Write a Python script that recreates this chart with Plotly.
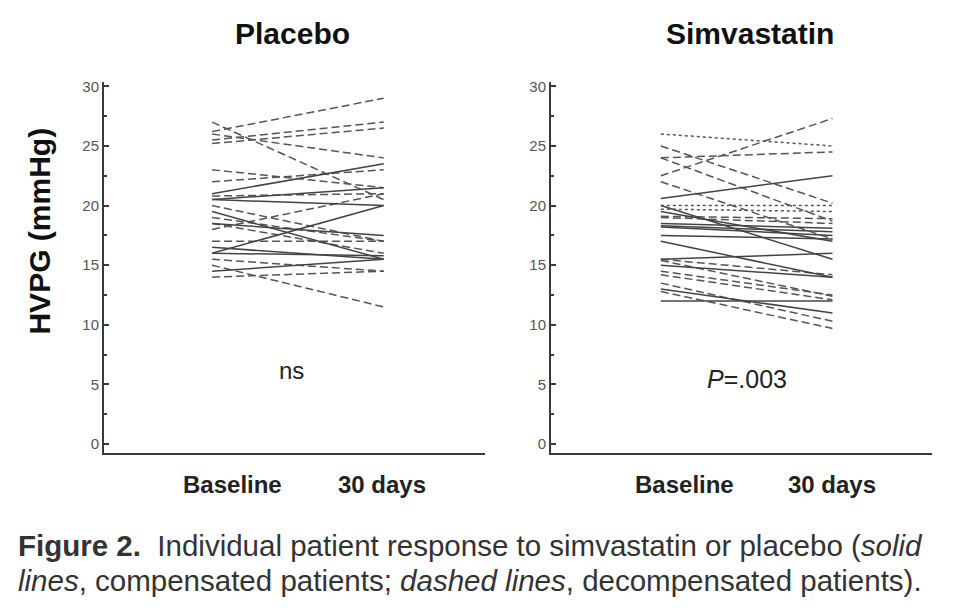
import plotly.graph_objects as go

# HVPG (mmHg) at baseline and after 30 days, one pair per patient
placebo_solid_base = [21, 20.5, 20.5, 19.5, 18.5, 16, 16.5, 16, 14.5]
placebo_solid_30d = [23.5, 21.5, 20, 15.5, 17.5, 20, 15.5, 15.8, 15.5]

placebo_dash_base = [26.2, 25.5, 25.2, 26, 27, 23, 22, 20.8, 20, 18, 19, 18.5, 17, 15.5, 15, 14]
placebo_dash_30d = [29, 27, 26.5, 24, 20.5, 21.5, 23, 21, 17, 21, 17, 16, 17, 14.5, 11.5, 14.5]

simva_solid_base = [20.6, 20, 19.5, 18.5, 18.3, 18.2, 17.5, 17, 15.5, 15, 13, 12]
simva_solid_30d = [22.5, 15.5, 17, 18.1, 17.8, 17.5, 17.2, 14, 16, 14, 11, 12]

simva_dash_base = [25, 24, 24, 22.5, 22, 19.1, 19, 15.5, 15.4, 14.5, 14.2, 13.5, 12.8]
simva_dash_30d = [20.2, 24.5, 18.7, 27.3, 17.2, 18.9, 18.5, 14.2, 12.4, 12.5, 12.1, 10.3, 9.7]

simva_dot_base = [26, 20, 19.7]
simva_dot_30d = [25, 20, 19.5]

timepoints = [1, 2]
x_labels = ["Baseline", "30 days"]

# page body has an 8px margin, so the figure is drawn a bit smaller
W, H = 945, 606


def fx(px):
    return (px - 8) / W


def fy(py):
    return 1 - (py - 8) / H


fig = go.Figure()


def add_lines(base, end, dash, color, xaxis, yaxis):
    for b, e in zip(base, end):
        fig.add_trace(go.Scatter(
            x=timepoints, y=[b, e], mode="lines",
            line=dict(color=color, width=1.5, dash=dash),
            xaxis=xaxis, yaxis=yaxis, showlegend=False, hoverinfo="skip"))


add_lines(placebo_dash_base, placebo_dash_30d, "8px,4px", "#555555", "x", "y")
add_lines(placebo_solid_base, placebo_solid_30d, "solid", "#444444", "x", "y")
add_lines(simva_dash_base, simva_dash_30d, "8px,4px", "#555555", "x2", "y2")
add_lines(simva_dot_base, simva_dot_30d, "3px,3px", "#555555", "x2", "y2")
add_lines(simva_solid_base, simva_solid_30d, "solid", "#444444", "x2", "y2")

font = "Liberation Sans, Arial, sans-serif"

yaxis_style = dict(
    range=[-0.75, 30.4], domain=[fy(452), fy(78)],
    showline=True, linewidth=2, linecolor="#3a3a3a",
    ticks="inside", ticklen=5, tickwidth=1.5, tickcolor="#3a3a3a",
    tickvals=[0, 5, 10, 15, 20, 25, 30],
    minor=dict(tickvals=[2.5, 7.5, 12.5, 17.5, 22.5, 27.5], ticks="inside",
               ticklen=3, tickcolor="#3a3a3a"),
    tickfont=dict(family=font, size=15, color="#555555"),
    showgrid=False, zeroline=False)

xaxis_style = dict(
    showline=True, linewidth=2, linecolor="#3a3a3a",
    showticklabels=False, ticks="", showgrid=False, zeroline=False)

fig.update_layout(
    width=W, height=H,
    margin=dict(l=0, r=0, t=0, b=0),
    plot_bgcolor="white", paper_bgcolor="white",
    xaxis=dict(xaxis_style, domain=[fx(104), fx(485)], range=[0.37, 2.59], anchor="y"),
    yaxis=dict(yaxis_style, anchor="x"),
    xaxis2=dict(xaxis_style, domain=[fx(551), fx(932)], range=[0.36, 2.58], anchor="y2"),
    yaxis2=dict(yaxis_style, anchor="x2"),
)

label_pos = {"x": [1.12, 1.99], "x2": [1.14, 2.0]}
for ax, xs in label_pos.items():
    for xv, txt in zip(xs, x_labels):
        fig.add_annotation(x=xv, y=fy(484), xref=ax, yref="paper", yanchor="middle",
                           text="<b>%s</b>" % txt, showarrow=False,
                           font=dict(family=font, size=24, color="#222222"))

# panel titles
for cx, txt in [(292, "Placebo"), (750, "Simvastatin")]:
    fig.add_annotation(x=fx(cx), y=fy(30), xref="paper", yref="paper",
                       xanchor="center", yanchor="middle",
                       text="<b>%s</b>" % txt, showarrow=False,
                       font=dict(family=font, size=30, color="#111111"))

# y-axis title
fig.add_annotation(x=fx(40), y=fy(229), xref="paper", yref="paper",
                   xanchor="center", yanchor="middle",
                   text="<b>HVPG (mmHg)</b>", textangle=-90, showarrow=False,
                   font=dict(family=font, size=30, color="#111111"))

# significance
fig.add_annotation(x=1.463, y=6.2, xref="x", yref="y", text="ns",
                   showarrow=False, font=dict(family=font, size=24, color="#222222"))
fig.add_annotation(x=1.503, y=5.5, xref="x2", yref="y2", text="<i>P</i>=.003",
                   showarrow=False, font=dict(family=font, size=25, color="#222222"))

# caption
fig.add_annotation(x=fx(16), y=fy(545), xref="paper", yref="paper",
                   xanchor="left", yanchor="middle", showarrow=False,
                   text="<b>Figure 2.</b>  Individual patient response to simvastatin or placebo (<i>solid</i>",
                   font=dict(family=font, size=29.5, color="#333333"))
fig.add_annotation(x=fx(16), y=fy(580), xref="paper", yref="paper",
                   xanchor="left", yanchor="middle", showarrow=False,
                   text="<i>lines</i>, compensated patients; <i>dashed lines</i>, decompensated patients).",
                   font=dict(family=font, size=29.5, color="#333333"))

fig.write_html("out.html")
